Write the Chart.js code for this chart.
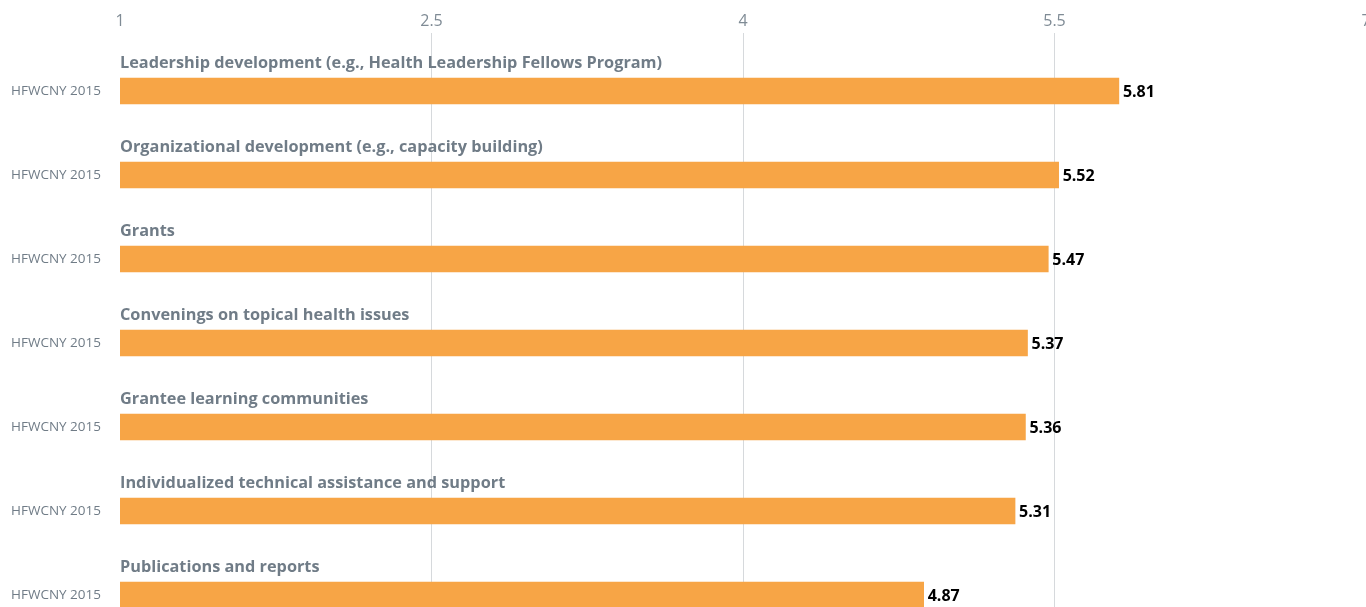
<!DOCTYPE html>
<html>
<head>
<meta charset="utf-8">
<script src="https://cdn.jsdelivr.net/npm/chart.js@4.4.0/dist/chart.umd.min.js"></script>
<style>
html,body{margin:0;padding:0;background:#fff;overflow:hidden;}
#c{display:block;width:1366px;height:640px;}
</style>
</head>
<body>
<canvas id="c" width="1366" height="640"></canvas>
<script>
const categories = [
  "Leadership development (e.g., Health Leadership Fellows Program)",
  "Organizational development (e.g., capacity building)",
  "Grants",
  "Convenings on topical health issues",
  "Grantee learning communities",
  "Individualized technical assistance and support",
  "Publications and reports"
];
const seriesName = "HFWCNY 2015";
const values = [5.81, 5.52, 5.47, 5.37, 5.36, 5.31, 4.87];
const xTicks = [1, 2.5, 4, 5.5, 7];

const FONT = "'Open Sans', 'Noto Sans', sans-serif";

const labelPlugin = {
  id: 'labels',
  afterDatasetsDraw(chart) {
    const ctx = chart.ctx;
    const meta = chart.getDatasetMeta(0);
    ctx.save();
    meta.data.forEach((bar, i) => {
      const top = bar.y - bar.height / 2;
      ctx.font = "bold 16.3px " + FONT;
      ctx.fillStyle = "#707c87";
      ctx.textAlign = "left";
      ctx.textBaseline = "alphabetic";
      ctx.fillText(chart.data.labels[i], chart.chartArea.left, top - 10);
      ctx.font = "bold 16px " + FONT;
      ctx.fillStyle = "#000000";
      ctx.textBaseline = "middle";
      ctx.fillText(values[i].toFixed(2), bar.x + 4, bar.y + 1);
    });
    ctx.restore();
  }
};

new Chart(document.getElementById('c'), {
  type: 'bar',
  data: {
    labels: categories,
    datasets: [{
      label: seriesName,
      data: values,
      backgroundColor: '#f7a546',
      borderWidth: 0,
      barThickness: 26
    }]
  },
  options: {
    indexAxis: 'y',
    responsive: false,
    maintainAspectRatio: false,
    devicePixelRatio: 1,
    animation: false,
    layout: { padding: { top: 0, left: 0, right: 0, bottom: 3 } },
    plugins: { legend: { display: false }, tooltip: { enabled: false } },
    scales: {
      x: {
        position: 'top',
        min: 1,
        max: 7,
        afterBuildTicks(s) { s.ticks = xTicks.map(v => ({ value: v })); },
        afterFit(s) { s.height = 49; s.paddingLeft = 0; s.paddingRight = 0; s.paddingTop = 0; s.paddingBottom = 0; },
        border: { display: false },
        grid: {
          color: (c) => (c.tick && c.tick.value === 1) ? 'rgba(0,0,0,0)' : '#d6d9dc',
          lineWidth: 1,
          drawTicks: true,
          tickLength: 16
        },
        ticks: {
          padding: 2,
          color: '#7f8b95',
          font: { family: FONT, size: 16, weight: '400' },
          maxRotation: 0,
          callback: (v) => String(v)
        }
      },
      y: {
        afterFit(s) { s.width = 120; s.paddingTop = 0; s.paddingBottom = 0; s.paddingLeft = 0; s.paddingRight = 0; },
        border: { display: false },
        grid: { display: false, drawTicks: false },
        ticks: {
          padding: 19,
          color: '#707c87',
          font: { family: FONT, size: 13.5 },
          callback: () => seriesName
        }
      }
    }
  },
  plugins: [labelPlugin]
});
</script>
</body>
</html>
